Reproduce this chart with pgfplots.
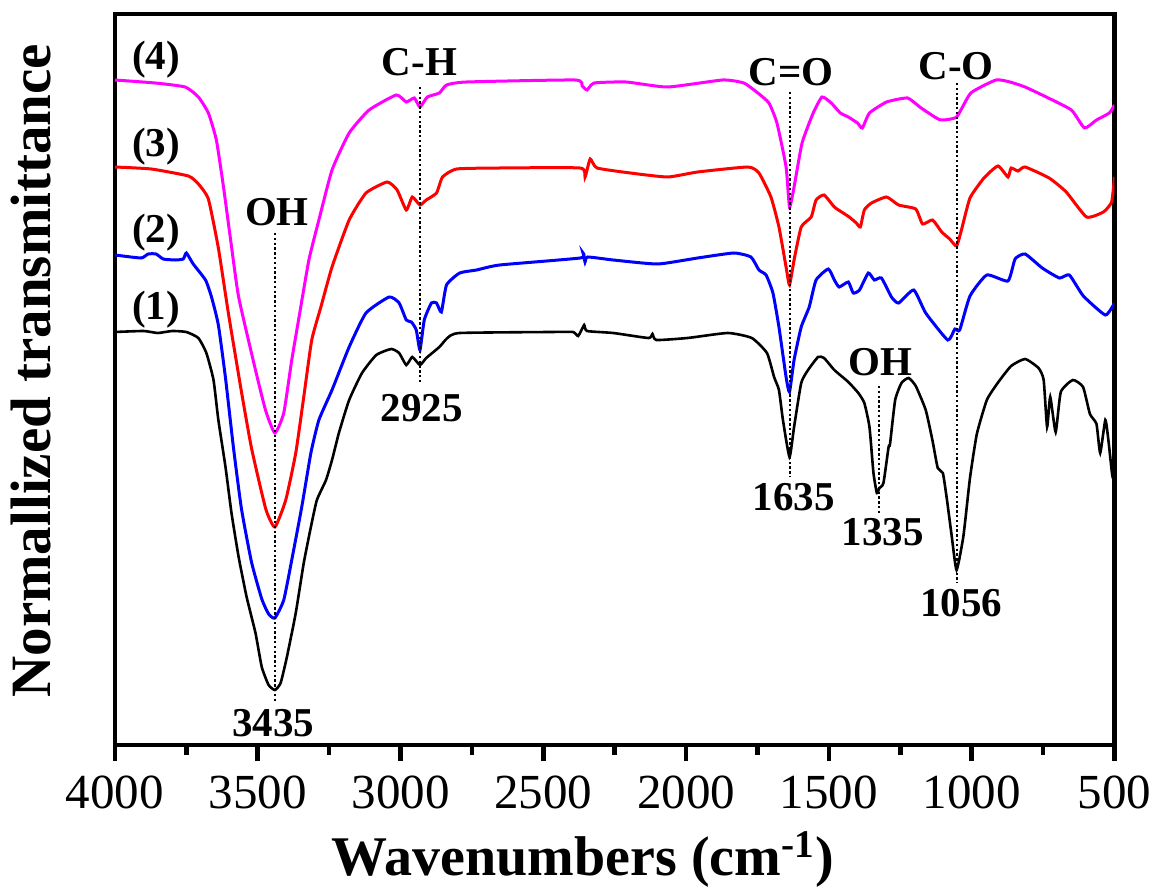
\documentclass[border=0pt]{standalone}
\usepackage{fontspec}
\setmainfont{Liberation Serif}
\usepackage{pgfplots}
\pgfplotsset{compat=1.18}
\definecolor{mag}{RGB}{255,0,255}
\definecolor{rd}{RGB}{255,0,0}
\definecolor{bl}{RGB}{0,0,255}
\newcommand\lab{\bfseries\fontsize{20.5}{20.5}\selectfont}
\begin{document}
\begin{tikzpicture}
\path[use as bounding box] (-57.5pt,-72.5pt) rectangle (519pt,372.5pt);
\begin{axis}[
  at={(0pt,0pt)}, anchor=south west,
  scale only axis, width=499.75pt, height=365.5pt,
  x dir=reverse, xmin=500, xmax=4000, ymin=-2, ymax=729,
  xtick={500,1000,...,4000}, minor x tick num=1,
  ytick=\empty,
  xtick pos=left, tick align=outside,
  major tick length=8pt, minor tick length=5pt,
  every tick/.append style={line width=2.3pt, black},
  axis line style={line width=2.3pt},
  /pgf/number format/assume math mode=true,
  /pgf/number format/1000 sep={},
  scaled x ticks=false,
  xticklabel style={font=\fontsize{24.5}{24.5}\selectfont, yshift=-4pt},
  xlabel={Wavenumbers (cm\textsuperscript{-1})},
  ylabel={Normallized transmittance},
  xlabel style={font=\bfseries\fontsize{28}{28}\selectfont, at={(axis description cs:0.468,-0.178)}, anchor=base},
  ylabel style={font=\bfseries\fontsize{28.5}{28.5}\selectfont, at={(axis description cs:-0.0844,0.512)}, anchor=center},
]
% (1) black
\addplot[black, line width=1.3pt, smooth, tension=0.3] coordinates {
(4000,411) (3900,412) (3850,410) (3800,412) (3750,411) (3708,405) (3680,390) (3655,363) (3638,323) (3613,276) (3592,230) (3567,186) (3539,146) (3508,110) (3486,76) (3462,58) (3440,53) (3420,60) (3398,86) (3367,130) (3339,180) (3314,216) (3293,243) (3261,263) (3240,283) (3216,310) (3180,343) (3135,370) (3085,388) (3033,394) (3005,390) (2980,378) (2959,386) (2932,378) (2910,385) (2864,396) (2836,405) (2793,410) (2477,411) (2396,411) (2378,407) (2357,418) (2347,412) (2255,410) (2132,405) (2118,409) (2104,403) (1995,405) (1854,410) (1770,405) (1717,390) (1692,366) (1675,353) (1661,323) (1638,286) (1622,316) (1597,360) (1573,373) (1538,386) (1517,385) (1481,373) (1432,361) (1397,350) (1376,340) (1358,316) (1344,270) (1332,250) (1323,255) (1309,260) (1291,296) (1286,299) (1268,343) (1246,360) (1221,365) (1196,357) (1161,333) (1137,302) (1119,275) (1101,270) (1087,244) (1070,207) (1053,173) (1029,207) (1006,265) (982,309) (947,343) (909,360) (862,377) (813,384) (766,375) (748,363) (736,316) (725,346) (706,311) (688,351) (646,363) (610,356) (586,329) (563,319) (550,290) (532,323) (521,302) (508,268) (500,261)
};
% (2) blue
\addplot[bl, line width=1.5pt, smooth, tension=0.3] coordinates {
(4000,488) (3909,485) (3884,489) (3856,489) (3831,484) (3789,483) (3761,484) (3750,490) (3726,479) (3683,463) (3662,446) (3638,418) (3613,365) (3585,295) (3557,234) (3522,181) (3486,144) (3462,129) (3440,125) (3409,143) (3381,183) (3346,236) (3314,290) (3286,323) (3240,353) (3180,396) (3121,430) (3040,446) (3005,440) (2980,423) (2962,421) (2945,413) (2932,393) (2917,423) (2892,440) (2874,440) (2857,431) (2839,458) (2793,470) (2734,473) (2653,478) (2371,485) (2361,490) (2354,481) (2345,486) (2255,483) (2100,479) (1960,485) (1833,490) (1773,486) (1745,473) (1720,468) (1696,450) (1675,416) (1650,366) (1638,351) (1622,383) (1597,416) (1569,436) (1545,463) (1502,474) (1481,463) (1464,456) (1432,461) (1415,450) (1393,453) (1362,470) (1341,463) (1316,465) (1281,446) (1256,440) (1203,453) (1161,430) (1084,403) (1059,414) (1042,413) (1006,447) (947,468) (873,462) (848,484) (813,489) (753,475) (693,465) (658,468) (609,447) (532,428) (500,440)
};
% (3) red
\addplot[rd, line width=1.5pt, smooth, tension=0.3] coordinates {
(4000,576) (3873,574) (3743,567) (3708,559) (3673,544) (3638,495) (3603,430) (3560,356) (3522,295) (3472,234) (3440,216) (3402,243) (3367,290) (3339,346) (3311,403) (3279,436) (3240,476) (3180,523) (3121,550) (3047,561) (3012,553) (2980,533) (2959,546) (2932,538) (2910,543) (2874,550) (2853,566) (2804,574) (2653,575) (2371,575) (2354,566) (2336,584) (2312,575) (2195,570) (2065,566) (1960,571) (1784,576) (1745,570) (1703,546) (1675,516) (1650,476) (1638,458) (1622,483) (1597,516) (1562,526) (1545,543) (1517,548) (1481,536) (1450,530) (1429,526) (1404,520) (1390,516) (1376,533) (1351,540) (1298,546) (1256,538) (1196,534) (1172,519) (1137,523) (1105,511) (1077,504) (1053,497) (1035,514) (1006,545) (957,565) (908,577) (873,566) (862,575) (838,572) (813,576) (729,565) (669,551) (598,526) (539,531) (510,541) (500,566)
};
% (4) magenta
\addplot[mag, line width=1.5pt, smooth, tension=0.3] coordinates {
(4000,663) (3859,660) (3754,656) (3708,646) (3673,630) (3645,603) (3620,556) (3595,503) (3567,446) (3508,373) (3472,332) (3440,310) (3409,330) (3381,383) (3356,425) (3321,483) (3286,523) (3240,573) (3180,610) (3110,633) (3015,648) (2980,641) (2952,645) (2932,636) (2906,646) (2864,650) (2839,658) (2769,661) (2389,663) (2364,657) (2347,653) (2322,660) (2210,661) (2065,656) (1872,663) (1798,660) (1749,650) (1710,640) (1682,620) (1650,576) (1638,536) (1622,556) (1594,600) (1555,630) (1524,646) (1492,640) (1460,630) (1432,626) (1400,620) (1383,615) (1358,630) (1298,641) (1225,645) (1182,636) (1151,630) (1109,623) (1053,626) (1003,650) (915,663) (866,661) (813,656) (739,646) (651,633) (605,615) (563,623) (518,630) (500,638)
};
% dotted guide lines
\addplot[black, line width=1pt, dash pattern=on 1.2pt off 1.2pt] coordinates {(3440,510) (3440,41)};
\addplot[black, line width=1pt, dash pattern=on 1.2pt off 1.2pt] coordinates {(2932,656) (2932,361)};
\addplot[black, line width=1pt, dash pattern=on 1.2pt off 1.2pt] coordinates {(1638,651) (1638,266)};
\addplot[black, line width=1pt, dash pattern=on 1.2pt off 1.2pt] coordinates {(1325,357) (1325,230)};
\addplot[black, line width=1pt, dash pattern=on 1.2pt off 1.2pt] coordinates {(1053,660) (1053,160)};
% labels
\node[font=\lab] at (axis cs:3856,683) {(4)};
\node[font=\lab] at (axis cs:3856,596) {(3)};
\node[font=\lab] at (axis cs:3856,510) {(2)};
\node[font=\lab] at (axis cs:3856,433) {(1)};
\node[font=\lab] at (axis cs:3433,531) {OH};
\node[font=\lab] at (axis cs:2934,681) {C-H};
\node[font=\lab] at (axis cs:1633,671) {C=O};
\node[font=\lab] at (axis cs:1055,677) {C-O};
\node[font=\lab] at (axis cs:2926,335) {2925};
\node[font=\lab] at (axis cs:3445,20) {3435};
\node[font=\lab] at (axis cs:1624,246) {1635};
\node[font=\lab] at (axis cs:1321,381) {OH};
\node[font=\lab] at (axis cs:1312,211) {1335};
\node[font=\lab] at (axis cs:1036,140) {1056};
\end{axis}
\end{tikzpicture}
\end{document}
